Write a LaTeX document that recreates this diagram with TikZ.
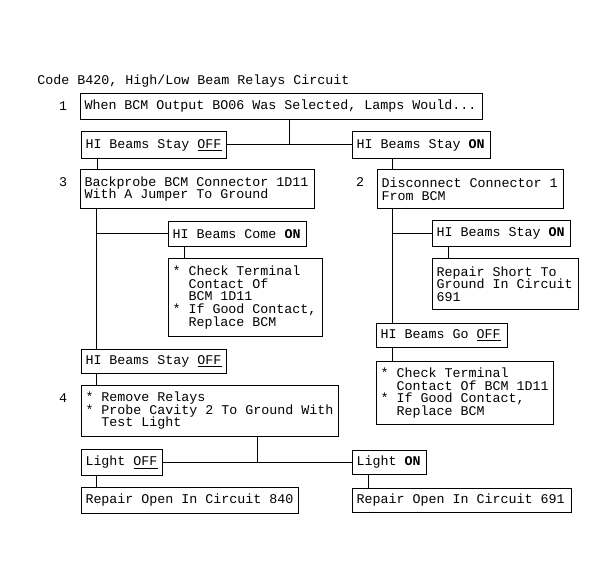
\documentclass[tikz,border=0pt]{standalone}
\usepackage{fontspec}
\setmainfont{Liberation Mono}[WordSpace={1,0,0}]
\setmonofont{Liberation Mono}[WordSpace={1,0,0}]
\newcommand\monosp{\spaceskip=6pt\xspaceskip=6pt\relax}
\begin{document}
\begin{tikzpicture}[x=0.75pt,y=-0.75pt,
  every node/.style={font=\fontsize{10}{9.4}\selectfont, text=black},
  box/.style n args={3}{draw=black, line width=0.75pt, anchor=north west, inner xsep=3pt, inner ysep=1pt,
    align=left, text width=#1pt, minimum width=#2pt, minimum height=#3pt},
  num/.style={anchor=center, inner sep=0pt},
  conn/.style={draw=black, line width=0.75pt}]
\useasboundingbox[fill=white] (0,0) rectangle (615,588);

\node[anchor=west, inner sep=0pt] (title) at (37,81) {Code B420, High/Low Beam Relays Circuit};

\node[box={295.25}{301.25}{19.5}] (b1) at (80,93) {\monosp When BCM Output BO06 Was Selected, Lamps Would...};
\node[num] (n1) at (63,106) {1};

\node[box={102.5}{108.5}{20.25}] (off1) at (81,131) {\monosp HI Beams Stay \underline{OFF}};
\node[box={97.25}{103.25}{20.25}] (on1) at (352,131) {\monosp HI Beams Stay \textbf{ON}};

\node[box={169.25}{175.25}{29.25}] (b3) at (80,169) {\monosp Backprobe BCM Connector 1D11\\With A Jumper To Ground};
\node[num] (n3) at (63,182) {3};

\node[box={133.25}{139.25}{29.25}] (b2) at (377,169) {\monosp Disconnect Connector 1\\From BCM};
\node[num] (n2) at (360,182) {2};

\node[box={97.25}{103.25}{18.75}] (comeon) at (168,221) {\monosp HI Beams Come \textbf{ON}};
\node[box={109.25}{115.25}{58.5}] (chk1) at (168,258) {\monosp{}* Check Terminal\\\hspace*{12pt}Contact Of\\\hspace*{12pt}BCM 1D11\\{}* If Good Contact,\\\hspace*{12pt}Replace BCM};
\node[box={102.5}{108.5}{18}] (off2) at (81,349) {\monosp HI Beams Stay \underline{OFF}};

\node[box={186.5}{192.5}{38.25}] (b4) at (81,385) {\monosp{}* Remove Relays\\{}* Probe Cavity 2 To Ground With\\\hspace*{12pt}Test Light};
\node[num] (n4) at (63,398) {4};

\node[box={54.5}{60.5}{19.5}] (loff) at (81,449) {\monosp Light \underline{OFF}};
\node[box={49.25}{55.25}{18}] (lon) at (352,450) {\monosp Light \textbf{ON}};
\node[box={156.5}{162.5}{19.5}] (r840) at (81,487) {\monosp Repair Open In Circuit 840};
\node[box={158}{164}{18}] (r691) at (352,488) {\monosp Repair Open In Circuit 691};

\node[box={97.25}{103.25}{19.5}] (on2) at (432,220) {\monosp HI Beams Stay \textbf{ON}};
\node[box={103.25}{109.25}{38.25}] (rshort) at (432,258) {\monosp Repair Short To\\Ground In Circuit\\691};
\node[box={92}{98}{18}] (gooff) at (376,323) {\monosp HI Beams Go \underline{OFF}};
\node[box={126.5}{132.5}{47.25}] (chk2) at (376,361) {\monosp{}* Check Terminal\\\hspace*{12pt}Contact Of BCM 1D11\\{}* If Good Contact,\\\hspace*{12pt}Replace BCM};

% connectors
\coordinate (j1) at ([xshift=156.75pt]b1.south west);
\draw[conn] (j1) -- (j1 |- off1.east);
\draw[conn] (off1.east) -- (on1.west);
\coordinate (a1) at ([xshift=12pt]off1.south west);
\draw[conn] (a1) -- (a1 |- b3.north);
\coordinate (a2) at ([xshift=30pt]on1.south west);
\draw[conn] (a2) -- (a2 |- b2.north);

\coordinate (t1) at ([xshift=12pt]b3.south west);
\draw[conn] (t1) -- (t1 |- off2.north);
\draw[conn] (comeon.west) -- (comeon.west -| t1);
\coordinate (c1) at ([xshift=12pt]comeon.south west);
\draw[conn] (c1) -- (c1 |- chk1.north);
\coordinate (t2) at ([xshift=11.25pt]off2.south west);
\draw[conn] (t2) -- (t2 |- b4.north);

\coordinate (j4) at ([xshift=132pt]b4.south west);
\draw[conn] (j4) -- (j4 |- loff.east);
\draw[conn] (loff.east) -- (loff.east -| lon.west);
\coordinate (l1) at ([xshift=11.25pt]loff.south west);
\draw[conn] (l1) -- (l1 |- r840.north);
\coordinate (l2) at ([xshift=12pt]lon.south west);
\draw[conn] (l2) -- (l2 |- r691.north);

\coordinate (t3) at ([xshift=11.25pt]b2.south west);
\draw[conn] (t3) -- (t3 |- gooff.north);
\draw[conn] (on2.west) -- (on2.west -| t3);
\coordinate (s1) at ([xshift=12pt]on2.south west);
\draw[conn] (s1) -- (s1 |- rshort.north);
\coordinate (g1) at ([xshift=12pt]gooff.south west);
\draw[conn] (g1) -- (g1 |- chk2.north);
\end{tikzpicture}
\end{document}
